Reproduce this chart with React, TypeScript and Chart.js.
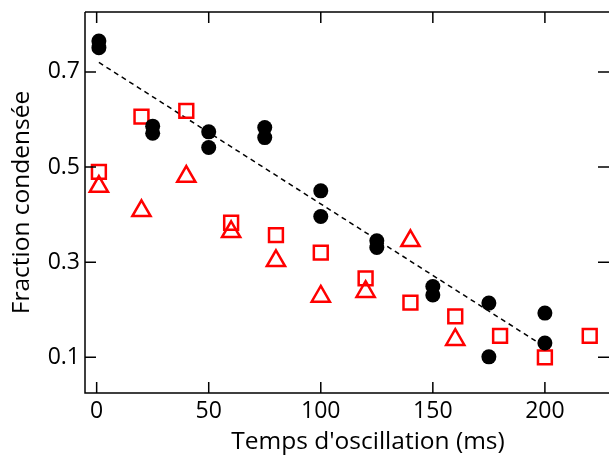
import React, { useEffect, useRef } from 'react';
import { Chart, registerables } from 'chart.js';

Chart.register(...registerables);

// Data
const circleX = [1, 1, 25, 25, 50, 50, 75, 75, 100, 100, 125, 125, 150, 150, 175, 175, 200, 200];
const circleY = [0.765, 0.751, 0.586, 0.571, 0.574, 0.541, 0.583, 0.562, 0.45, 0.396, 0.345, 0.331, 0.249, 0.231, 0.214, 0.101, 0.193, 0.13];
const squareX = [1, 20, 40, 60, 80, 100, 120, 140, 160, 180, 200, 220];
const squareY = [0.49, 0.606, 0.618, 0.383, 0.357, 0.32, 0.266, 0.215, 0.186, 0.145, 0.1, 0.145];
const triangleX = [1, 20, 40, 60, 80, 100, 120, 140, 160];
const triangleY = [0.459, 0.408, 0.48, 0.364, 0.303, 0.228, 0.238, 0.345, 0.137];
const fitX = [1, 197];
const fitY = [0.72, 0.131];
const xTicks = [0, 50, 100, 150, 200];
const yTicks = [0.1, 0.3, 0.5, 0.7];
const xTitle = "Temps d'oscillation (ms)";
const yTitle = 'Fraction condensée';

const FONT = '"Open Sans", "Noto Sans", sans-serif';
const RED = '#ff0000';

const zip = (xs: number[], ys: number[]) => xs.map((x, i) => ({ x, y: ys[i] }));

const framePlugin = {
  id: 'frame',
  afterDraw(chart: any) {
    const { ctx, chartArea } = chart;
    const { left, right, top, bottom } = chartArea;
    const xs = chart.scales.x;
    const ys = chart.scales.y;
    const tl = 11;
    ctx.save();
    ctx.strokeStyle = '#000';
    ctx.lineWidth = 1.5;
    ctx.beginPath();
    ctx.moveTo(left, top);
    ctx.lineTo(right + 2, top);
    ctx.moveTo(left, top);
    ctx.lineTo(left, bottom);
    ctx.lineTo(right + 2, bottom);
    xs.ticks.forEach((t: any) => {
      const px = xs.getPixelForValue(t.value);
      ctx.moveTo(px, bottom);
      ctx.lineTo(px, bottom - tl);
      ctx.moveTo(px, top);
      ctx.lineTo(px, top + tl);
    });
    ys.ticks.forEach((t: any) => {
      const py = ys.getPixelForValue(t.value);
      ctx.moveTo(left, py);
      ctx.lineTo(left + tl, py);
      ctx.moveTo(right, py);
      ctx.lineTo(right - tl, py);
    });
    ctx.stroke();
    ctx.fillStyle = '#000';
    ctx.font = `24.5px ${FONT}`;
    ctx.textAlign = 'center';
    ctx.textBaseline = 'alphabetic';
    ctx.fillText(xTitle, 368, 449);
    ctx.restore();
  },
};

export default function App() {
  const ref = useRef<HTMLCanvasElement | null>(null);

  useEffect(() => {
    document.body.style.margin = '0';
    const canvas = ref.current;
    if (!canvas) return;
    const chart = new Chart(canvas, {
      type: 'scatter',
      data: {
        datasets: [
          {
            label: 'circles',
            data: zip(circleX, circleY),
            pointStyle: 'circle',
            pointRadius: 7.5,
            pointBackgroundColor: '#000',
            pointBorderWidth: 0,
            pointBorderColor: '#000',
          },
          {
            label: 'squares',
            data: zip(squareX, squareY),
            pointStyle: 'rect',
            pointRadius: 9.8,
            pointBackgroundColor: 'rgba(0,0,0,0)',
            pointBorderColor: RED,
            pointBorderWidth: 2.5,
          },
          {
            label: 'triangles',
            data: zip(triangleX, triangleY),
            pointStyle: 'triangle',
            pointRadius: 10.5,
            pointBackgroundColor: 'rgba(0,0,0,0)',
            pointBorderColor: RED,
            pointBorderWidth: 2.5,
          },
          {
            type: 'line',
            label: 'fit',
            data: zip(fitX, fitY),
            borderColor: '#000',
            borderWidth: 1.5,
            borderDash: [5, 4],
            pointRadius: 0,
            fill: false,
          } as any,
        ],
      },
      options: {
        animation: false,
        responsive: false,
        maintainAspectRatio: false,
        layout: { autoPadding: false, padding: { top: 12, right: 0, left: 0, bottom: 0 } },
        plugins: {
          legend: { display: false },
          tooltip: { enabled: false },
        },
        scales: {
          x: {
            type: 'linear',
            min: -5.2,
            max: 228.6,
            afterBuildTicks: (s: any) => {
              s.ticks = xTicks.map((v) => ({ value: v }));
            },
            afterFit: (s: any) => {
              s.height = 70;
              s.paddingLeft = 0;
              s.paddingRight = 0;
            },
            grid: { display: false, drawTicks: false },
            border: { display: false },
            ticks: {
              color: '#000',
              font: { family: FONT, size: 23 },
              padding: 5,
              maxRotation: 0,
              autoSkip: false,
            },
          },
          y: {
            type: 'linear',
            min: 0.025,
            max: 0.826,
            afterBuildTicks: (s: any) => {
              s.ticks = yTicks.map((v) => ({ value: v }));
            },
            afterFit: (s: any) => {
              s.width = 85;
              s.paddingTop = 0;
              s.paddingBottom = 0;
            },
            grid: { display: false, drawTicks: false },
            border: { display: false },
            ticks: {
              color: '#000',
              font: { family: FONT, size: 23 },
              padding: 5,
              callback: (v: any) => Number(v).toFixed(1),
            },
            title: {
              display: true,
              text: yTitle,
              color: '#000',
              font: { family: FONT, size: 24.5 },
              padding: { top: 7, bottom: 0 },
            },
          },
        },
      },
      plugins: [framePlugin],
    });
    return () => chart.destroy();
  }, []);

  return (
    <div style={{ width: 609, height: 463 }}>
      <canvas ref={ref} width={609} height={463} style={{ display: 'block' }} />
    </div>
  );
}
